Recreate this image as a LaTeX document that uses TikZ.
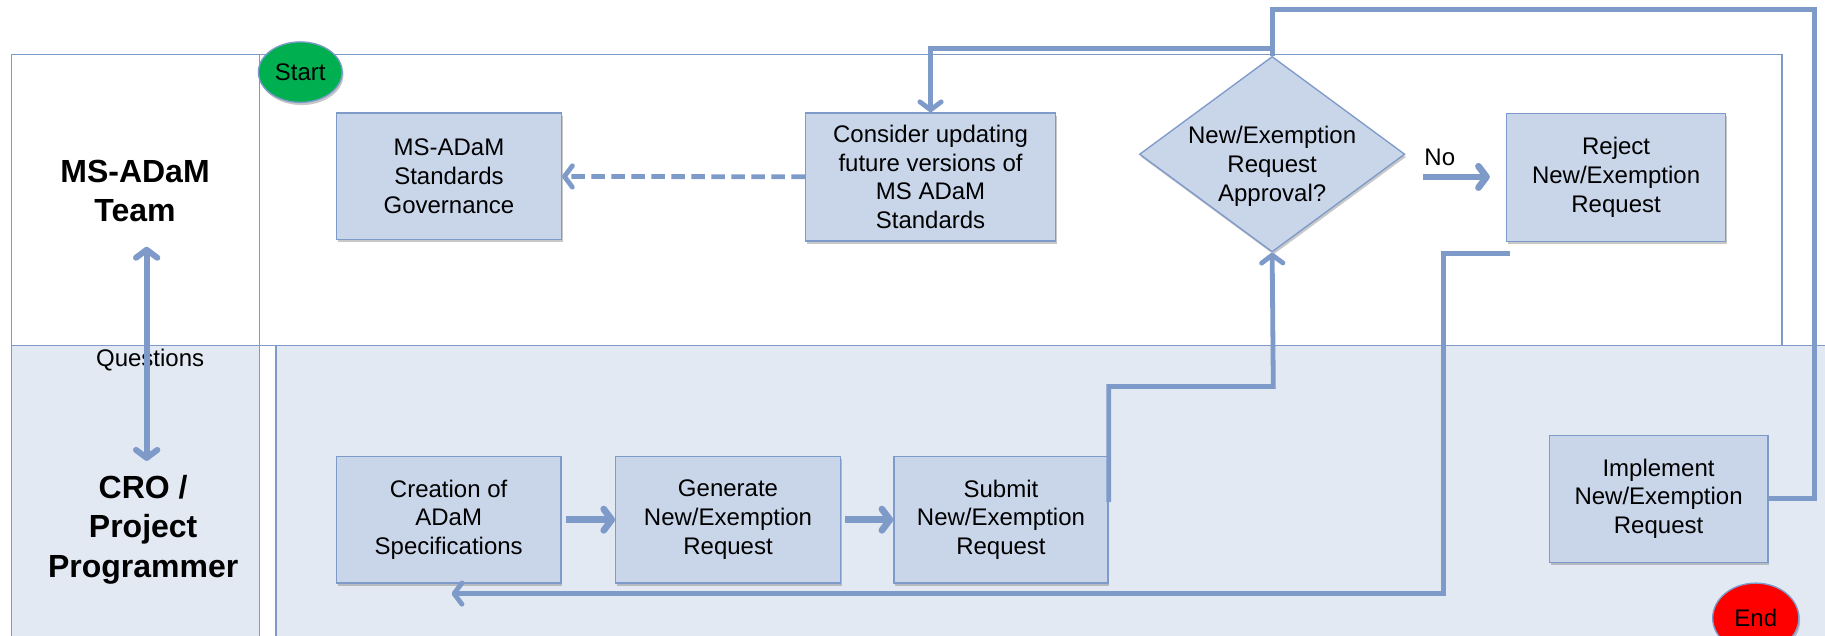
\documentclass[tikz,border=0pt]{standalone}
\usepackage{fontspec}
\setmainfont{Liberation Sans}
\usetikzlibrary{arrows.meta,shapes.geometric,shadows,calc}

\definecolor{edge}{RGB}{126,154,201}
\definecolor{boxfill}{RGB}{201,214,234}
\definecolor{lanefill}{RGB}{227,233,243}
\definecolor{startgreen}{RGB}{0,176,80}
\definecolor{endred}{RGB}{255,0,0}

\begin{document}
\begin{tikzpicture}[x=0.8729pt,y=-0.8729pt,
  every node/.style={font=\fontsize{18}{21.6}\selectfont, text=black},
  sz/.style 2 args={minimum width=#1*0.8729pt, minimum height=#2*0.8729pt},
  softshadow/.style={drop shadow={shadow xshift=1pt,shadow yshift=-2pt,opacity=0.3,fill=black!70}},
  box/.style={rectangle, draw=edge, line width=1pt, fill=boxfill, inner sep=0pt, align=center, softshadow},
  decision/.style={diamond, draw=edge, line width=1pt, fill=boxfill, inner sep=0pt, softshadow},
  terminal/.style={ellipse, draw=edge, line width=1pt, inner sep=0pt, softshadow},
  lanelabel/.style={font=\fontsize{24}{29.5}\selectfont\bfseries, align=center},
  frame/.style={draw=edge, line width=1pt},
  flow/.style={draw=edge, line width=3.6pt},
  stub/.style={draw=edge, line width=5pt},
  tip/.style={-{Straight Barb[length=6pt,width=16pt,round]}},
]
\useasboundingbox (0,0) rectangle (1568,546);
\clip (0,0) rectangle (1568,546);
\fill[white] (0,0) rectangle (1568,546);

% swim lanes
\fill[lanefill] (10,297) rectangle (223,560);
\fill[lanefill] (237,297) rectangle (1580,560);
\draw[frame] (10,47) rectangle (223,297);
\draw[frame] (223,47) rectangle (1531,297);
\draw[frame] (10,297) rectangle (223,560);
\draw[frame] (237,297) -- (237,560);
\draw[frame] (223,297) -- (1580,297);

% lane titles
\node[lanelabel] (laneA) at (116,164) {MS-ADaM\\Team};
\node[lanelabel] (laneB) at (123,455) {CRO /\\Project\\Programmer};
\node (qlabel) at (129,309) {Questions};
\coordinate (qa) at (126,212);
\coordinate (qb) at (126,396);
\draw[draw=edge, line width=4.5pt, {Straight Barb[length=6pt,width=16pt,round]}-{Straight Barb[length=6pt,width=16pt,round]}] (qa) -- (qb);

% process steps
\node[box, sz={193}{109}] (gov) at (385.75,151.5) {MS-ADaM\\Standards\\Governance};
\node[box, sz={215}{110}] (consider) at (799.5,152) {Consider updating\\future versions of\\MS ADaM\\Standards};
\node[decision, sz={228}{168}] (q) at (1093,132.5) {};
\node[align=center] (qtext) at (1093,143) {New/Exemption\\Request\\Approval?};
\node[box, sz={188}{110}] (reject) at (1388.5,152.5) {Reject\\New/Exemption\\Request};
\node[box, sz={193}{109}] (create) at (385.5,446.5) {Creation of\\ADaM\\Specifications};
\node[box, sz={193}{109}] (gen) at (625.5,446.5) {Generate\\New/Exemption\\Request};
\node[box, sz={184}{109}] (submit) at (860,446.5) {Submit\\New/Exemption\\Request};
\node[box, sz={188}{109}] (impl) at (1425,428.5) {Implement\\New/Exemption\\Request};

\node[terminal, fill=startgreen, sz={72}{52}] (start) at (258,62) {Start};
\node[terminal, fill=endred, sz={74}{60}] (end) at (1508.5,531) {End};

% connectors
\draw[stub, tip, shorten <=3pt] (create) -- (gen);
\draw[stub, tip, shorten <=3pt] (gen) -- (submit);
\draw[flow, tip] ([yshift=15*0.8729pt]submit.east) |- (1094,332) -- (q.south);
\draw[flow, tip, dash pattern=on 10pt off 5pt] (consider) -- (gov);

\coordinate (split) at (1093,42);
\draw[flow, tip] (q.north) -- (split) -| (consider.north);
\coordinate (topR) at (1559,8);
\draw[flow] (q.north) |- (topR) |- (impl.east);

\coordinate (noA) at (1223,152);
\coordinate (noB) at (1280,152);
\draw[stub, tip] (noA) -- (noB);
\node (nolabel) at (1237,135) {No};

\coordinate (rj) at (1297,218);
\coordinate (rjc) at (1240,218);
\coordinate (back) at (388,510);
\draw[flow, tip] (rj) -- (rjc) |- (back);
\end{tikzpicture}
\end{document}
